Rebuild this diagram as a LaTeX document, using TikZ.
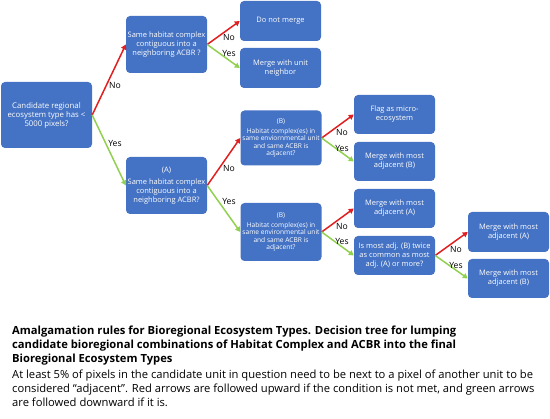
\documentclass[tikz,border=0pt]{standalone}
\usepackage{fontspec}
\setmainfont{Open Sans}
\usetikzlibrary{arrows.meta}
\definecolor{boxblue}{HTML}{4472C4}
\definecolor{nored}{HTML}{E02020}
\definecolor{yesgreen}{HTML}{92D050}
\tikzset{
  box/.style={fill=boxblue, draw=none, rounded corners=4pt, text=white, align=center,
    inner sep=0pt, minimum width=81pt, font=\fontsize{7.5}{9}\selectfont},
  bigbox/.style={box, minimum width=91pt, minimum height=66pt, font=\fontsize{7.8}{9}\selectfont},
  qbox/.style={box, minimum height=57pt},
  endbox/.style={box, minimum height=40pt},
  bbox/.style={box, minimum height=55pt, font=\fontsize{6.6}{7.5}\selectfont},
  noarrow/.style={draw=nored, line width=1.5pt, -{Triangle[length=5pt,width=5.5pt]}},
  yesarrow/.style={draw=yesgreen, line width=1.5pt, -{Triangle[length=5pt,width=5.5pt]}},
  lbl/.style={font=\fontsize{8.6}{10}\selectfont, inner sep=0pt, text=black},
}
\begin{document}
\begin{tikzpicture}[x=1pt,y=-1pt]
\useasboundingbox (0,0) rectangle (550,419);
% boxes
\node[bigbox] (root) at (46.5,115) {Candidate regional\\ecosystem type has <\\5000 pixels?};
\node[qbox] (q1) at (166.5,44.5) {Same habitat complex\\contiguous into a\\neighboring ACBR ?};
\node[endbox] (dnm) at (280.5,21) {Do not merge};
\node[endbox] (mun) at (280.5,68) {Merge with unit\\neighbor};
\node[qbox] (qa) at (166.5,185.5) {(A)\\[3.5pt]Same habitat complex\\contiguous into a\\neighboring ACBR?};
\node[bbox] (bu) at (281,138) {(B)\\[2.5pt]Habitat complex(es) in\\same enviornmental unit\\and same ACBR is\\adjacent?};
\node[bbox, minimum height=58pt] (bl) at (281,232) {(B)\\[2.5pt]Habitat complex(es) in\\same environmental unit\\and same ACBR is\\adjacent?};
\node[endbox, minimum height=39pt] (flag) at (394.5,114.5) {Flag as micro-\\ecosystem};
\node[endbox, minimum height=39pt] (mb1) at (394.5,161.5) {Merge with most\\adjacent (B)};
\node[endbox, minimum height=39pt] (ma1) at (394.5,208.5) {Merge with most\\adjacent (A)};
\node[endbox, minimum height=39pt] (twice) at (394.5,255.5) {Is most adj. (B) twice\\as common as most\\adj. (A) or more?};
\node[endbox] (ma2) at (508.5,232) {Merge with most\\adjacent (A)};
\node[endbox, minimum height=39pt] (mb2) at (508.5,278.5) {Merge with most\\adjacent (B)};
% arrows
\draw[noarrow] (root.east) -- (q1.west);
\draw[yesarrow] (root.east) -- (qa.west);
\draw[noarrow] (q1.east) -- (dnm.west);
\draw[yesarrow] (q1.east) -- (mun.west);
\draw[noarrow] (qa.east) -- (bu.west);
\draw[yesarrow] (qa.east) -- (bl.west);
\draw[noarrow] (bu.east) -- (flag.west);
\draw[yesarrow] (bu.east) -- (mb1.west);
\draw[noarrow] (bl.east) -- (ma1.west);
\draw[yesarrow] (bl.east) -- (twice.west);
\draw[noarrow] (twice.east) -- (ma2.west);
\draw[yesarrow] (twice.east) -- (mb2.west);
% labels
\node[lbl] (l1) at (115,85) {No};
\node[lbl] (l2) at (115,143) {Yes};
\node[lbl] (l3) at (229,37) {No};
\node[lbl] (l4) at (229,53) {Yes};
\node[lbl] (l5) at (229,168) {No};
\node[lbl] (l6) at (229,201) {Yes};
\node[lbl] (l7) at (342,132) {No};
\node[lbl] (l8) at (342,148) {Yes};
\node[lbl] (l9) at (342,226) {No};
\node[lbl] (l10) at (342,241) {Yes};
\node[lbl] (l11) at (456,249) {No};
\node[lbl] (l12) at (456,265) {Yes};
% caption
\node[anchor=north west, align=left, inner sep=0pt, font=\fontsize{11.2}{14}\selectfont\bfseries] (cap) at (12,326)
 {Amalgamation rules for Bioregional Ecosystem Types. Decision tree for lumping\\
  candidate bioregional combinations of Habitat Complex and ACBR into the final\\
  Bioregional Ecosystem Types};
\node[anchor=north west, align=left, inner sep=0pt, font=\fontsize{11.2}{14}\selectfont] (txt) at (12,370)
 {At least 5\% of pixels in the candidate unit in question need to be next to a pixel of another unit to be\\
  considered “adjacent”. Red arrows are followed upward if the condition is not met, and green arrows\\
  are followed downward if it is.};
\end{tikzpicture}
\end{document}
